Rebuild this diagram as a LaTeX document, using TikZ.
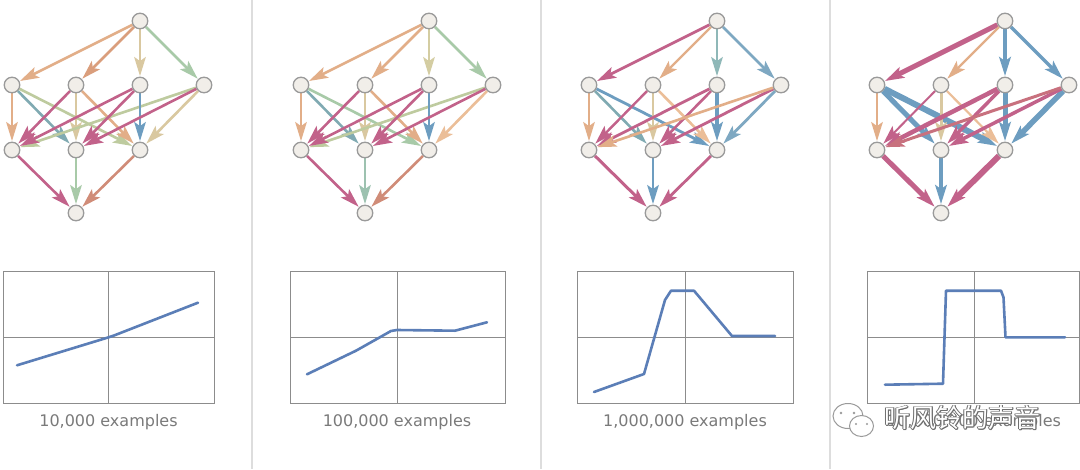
\documentclass[tikz,border=0pt]{standalone}
\usepackage{fontspec}
\setmainfont{DejaVu Sans}
\newfontfamily\cjk{Noto Sans CJK SC}
\usetikzlibrary{arrows.meta}
\pgfdeclarelayer{fg}
\pgfsetlayers{main,fg}
\definecolor{cOr}{HTML}{E2AE88}
\definecolor{cOrD}{HTML}{DA9E7C}
\definecolor{cOrL}{HTML}{EBBE98}
\definecolor{cBe}{HTML}{D9C8A0}
\definecolor{cBeO}{HTML}{D4CDA2}
\definecolor{cGr}{HTML}{A8CAA8}
\definecolor{cGrT}{HTML}{9DC2B0}
\definecolor{cOl}{HTML}{BECB9F}
\definecolor{cTe}{HTML}{80AAB2}
\definecolor{cTeL}{HTML}{8FB8B8}
\definecolor{cBl}{HTML}{6D9DC0}
\definecolor{cBlL}{HTML}{7EA8C2}
\definecolor{cMa}{HTML}{C2628A}
\definecolor{cMaR}{HTML}{C8717E}
\definecolor{cBr}{HTML}{D08C78}
\definecolor{ndf}{HTML}{F1EEE9}
\definecolor{ndb}{HTML}{9A9A9A}
\definecolor{frm}{HTML}{8C8C8C}
\definecolor{crv}{HTML}{5B7EB7}
\definecolor{lblc}{HTML}{7A7A7A}
\definecolor{sepc}{HTML}{DDDDDD}
\definecolor{wmk}{HTML}{6E6E6E}
\tikzset{
  nd/.style={circle,draw=ndb,fill=ndf,line width=1.3pt,minimum size=15.5pt,inner sep=0pt},
  ar/.style={-{Stealth[length=19pt,width=11.5pt,inset=4pt]},line width=2.6pt,shorten >=0.5pt},
  frame/.style={draw=frm,line width=1pt},
  curve/.style={draw=crv,line width=2.6pt,line join=round,line cap=round},
  lbl/.style={text=lblc,font=\fontsize{16}{19}\selectfont,anchor=base,inner sep=0pt},
  sepline/.style={draw=sepc,line width=2pt},
  wmtext/.style={font=\cjk\fontsize{26}{30}\selectfont,inner sep=0pt},
  bubble/.style={draw=ndb,fill=white,line width=1pt}
}
\newcommand{\mknodes}[2]{%
\begin{pgfonlayer}{fg}
\node[nd] (#1T) at (140+#2,21) {};
\node[nd] (#1A1) at (12+#2,85) {};
\node[nd] (#1A2) at (76+#2,85) {};
\node[nd] (#1A3) at (140+#2,85) {};
\node[nd] (#1A4) at (204+#2,85) {};
\node[nd] (#1B1) at (12+#2,150) {};
\node[nd] (#1B2) at (76+#2,150) {};
\node[nd] (#1B3) at (140+#2,150) {};
\node[nd] (#1Z) at (76+#2,213) {};
\end{pgfonlayer}}
\newcommand{\edg}[4]{\draw[ar,draw=#3,line width=#4pt] (#1) -- (#2);}
\begin{document}
\begin{tikzpicture}[x=1pt,y=-1pt]
\useasboundingbox (0,0) rectangle (1080,469);
\fill[white] (0,0) rectangle (1080,469);
% separators
\coordinate (s1t) at (252,0); \coordinate (s1b) at (252,469);
\coordinate (s2t) at (541,0); \coordinate (s2b) at (541,469);
\coordinate (s3t) at (830,0); \coordinate (s3b) at (830,469);
\draw[sepline] (s1t) -- (s1b);
\draw[sepline] (s2t) -- (s2b);
\draw[sepline] (s3t) -- (s3b);
% ---------- panel 1
\mknodes{a}{0}
\edg{aT}{aA1}{cOr}{2.6}
\edg{aT}{aA2}{cOrD}{2.6}
\edg{aT}{aA3}{cBe}{2.6}
\edg{aT}{aA4}{cGr}{2.6}
\edg{aA1}{aB1}{cOr}{2.6}
\edg{aA1}{aB2}{cTe}{2.6}
\edg{aA1}{aB3}{cOl}{2.6}
\edg{aA2}{aB2}{cBe}{2.6}
\edg{aA2}{aB3}{cOr}{2.6}
\edg{aA4}{aB1}{cOl}{2.6}
\edg{aA4}{aB3}{cBe}{2.6}
\edg{aA3}{aB3}{cBl}{2.6}
\edg{aA2}{aB1}{cMa}{2.6}
\edg{aA3}{aB1}{cMa}{2.6}
\edg{aA3}{aB2}{cMa}{2.6}
\edg{aA4}{aB2}{cMa}{2.6}
\edg{aB1}{aZ}{cMa}{2.6}
\edg{aB2}{aZ}{cGr}{2.6}
\edg{aB3}{aZ}{cBr}{2.6}
% ---------- panel 2
\mknodes{b}{289}
\edg{bT}{bA1}{cOr}{2.6}
\edg{bT}{bA2}{cOr}{2.6}
\edg{bT}{bA3}{cBeO}{2.6}
\edg{bT}{bA4}{cGr}{2.6}
\edg{bA1}{bB1}{cOr}{2.6}
\edg{bA1}{bB2}{cTe}{2.6}
\edg{bA1}{bB3}{cGr}{2.6}
\edg{bA2}{bB2}{cBe}{2.6}
\edg{bA2}{bB3}{cOr}{2.6}
\edg{bA4}{bB1}{cOl}{2.6}
\edg{bA4}{bB3}{cOrL}{2.6}
\edg{bA3}{bB3}{cBl}{2.6}
\edg{bA2}{bB1}{cMa}{2.6}
\edg{bA3}{bB1}{cMa}{2.6}
\edg{bA3}{bB2}{cMa}{2.6}
\edg{bA4}{bB2}{cMa}{2.6}
\edg{bB1}{bZ}{cMa}{2.6}
\edg{bB2}{bZ}{cGrT}{2.6}
\edg{bB3}{bZ}{cBr}{2.6}
% ---------- panel 3
\mknodes{c}{577}
\edg{cT}{cA1}{cMa}{2.8}
\edg{cT}{cA2}{cOr}{2.4}
\edg{cT}{cA3}{cTeL}{2.6}
\edg{cT}{cA4}{cBlL}{2.6}
\edg{cA1}{cB1}{cOr}{2.6}
\edg{cA1}{cB2}{cTe}{2.6}
\edg{cA1}{cB3}{cBl}{2.8}
\edg{cA2}{cB2}{cBe}{2.6}
\edg{cA2}{cB3}{cOrL}{2.6}
\edg{cA4}{cB3}{cBlL}{2.8}
\edg{cA3}{cB3}{cBl}{3.6}
\edg{cA2}{cB1}{cMa}{2.4}
\edg{cA3}{cB1}{cMa}{2.8}
\edg{cA3}{cB2}{cMa}{2.6}
\edg{cA4}{cB2}{cMa}{2.8}
\edg{cA4}{cB1}{cOr}{2.6}
\edg{cB1}{cZ}{cMa}{3.0}
\edg{cB2}{cZ}{cBl}{2.8}
\edg{cB3}{cZ}{cMa}{2.8}
% ---------- panel 4
\mknodes{d}{865}
\edg{dT}{dA1}{cMa}{5}
\edg{dT}{dA2}{cOr}{2.4}
\edg{dT}{dA3}{cBl}{4}
\edg{dT}{dA4}{cBl}{3.4}
\edg{dA1}{dB1}{cOr}{2.6}
\edg{dA1}{dB2}{cBl}{5}
\edg{dA1}{dB3}{cBl}{6}
\edg{dA2}{dB2}{cBe}{3}
\edg{dA2}{dB3}{cOrL}{2.2}
\edg{dA3}{dB3}{cBl}{5}
\edg{dA4}{dB3}{cBl}{5.5}
\edg{dA2}{dB1}{cMa}{2}
\edg{dA3}{dB1}{cMa}{4.5}
\edg{dA3}{dB2}{cMa}{3.5}
\edg{dA4}{dB2}{cMa}{3.5}
\edg{dA4}{dB1}{cMaR}{3}
\edg{dB1}{dZ}{cMa}{5}
\edg{dB2}{dZ}{cBl}{3.5}
\edg{dB3}{dZ}{cMa}{6}
% ---------- plots
\draw[frame] (3,271) rectangle (214,403);
\draw[frame] (108.5,271) -- (108.5,403);
\draw[frame] (3,337.3) -- (214,337.3);
\draw[curve] (17,365.3) -- (108,337.5) -- (114,335.5) -- (198,302.7);
\node[lbl] (l1) at (108.5,426) {10,000 examples};

\draw[frame] (290,271) rectangle (505,403);
\draw[frame] (397,271) -- (397,403);
\draw[frame] (290,337.3) -- (505,337.3);
\draw[curve] (307,374.3) -- (356,350.7) -- (391,331) -- (397,330) -- (455,330.7) -- (487,322.3);
\node[lbl] (l2) at (397,426) {100,000 examples};

\draw[frame] (577,271) rectangle (793,403);
\draw[frame] (685,271) -- (685,403);
\draw[frame] (577,337.3) -- (793,337.3);
\draw[curve] (594,392) -- (644,374) -- (665,300) -- (671,290.7) -- (694,290.7) -- (732,336) -- (775,336);
\node[lbl] (l3) at (685,426) {1,000,000 examples};

\draw[frame] (867,271) rectangle (1079.5,403);
\draw[frame] (974,271) -- (974,403);
\draw[frame] (867,337.3) -- (1079.5,337.3);
\draw[curve] (885,384.7) -- (943,383.7) -- (946,290.7) -- (1001,290.7) -- (1003.5,297.3) -- (1005.5,337.3) -- (1065,337.3);
\node[lbl] (l4) at (974,426) {10,000,000 examples};
% ---------- watermark
\draw[bubble] (848,416) ellipse [x radius=15pt, y radius=12.5pt];
\fill[ndb] (841,413) circle (1.3pt) (854,413) circle (1.3pt);
\draw[bubble] (861.5,426) ellipse [x radius=12pt, y radius=10.5pt];
\fill[ndb] (856,424) circle (1.2pt) (867,424) circle (1.2pt);
\foreach \dx/\dy in {-0.7/0,0.7/0,0/-0.7,0/0.7,-0.5/-0.5,0.5/0.5,-0.5/0.5,0.5/-0.5}
  \node[wmtext,text=wmk] at (962.5+\dx,418+\dy) {听风铃的声音};
\node[wmtext,text=white] (wm) at (962.5,418) {听风铃的声音};
\end{tikzpicture}
\end{document}
